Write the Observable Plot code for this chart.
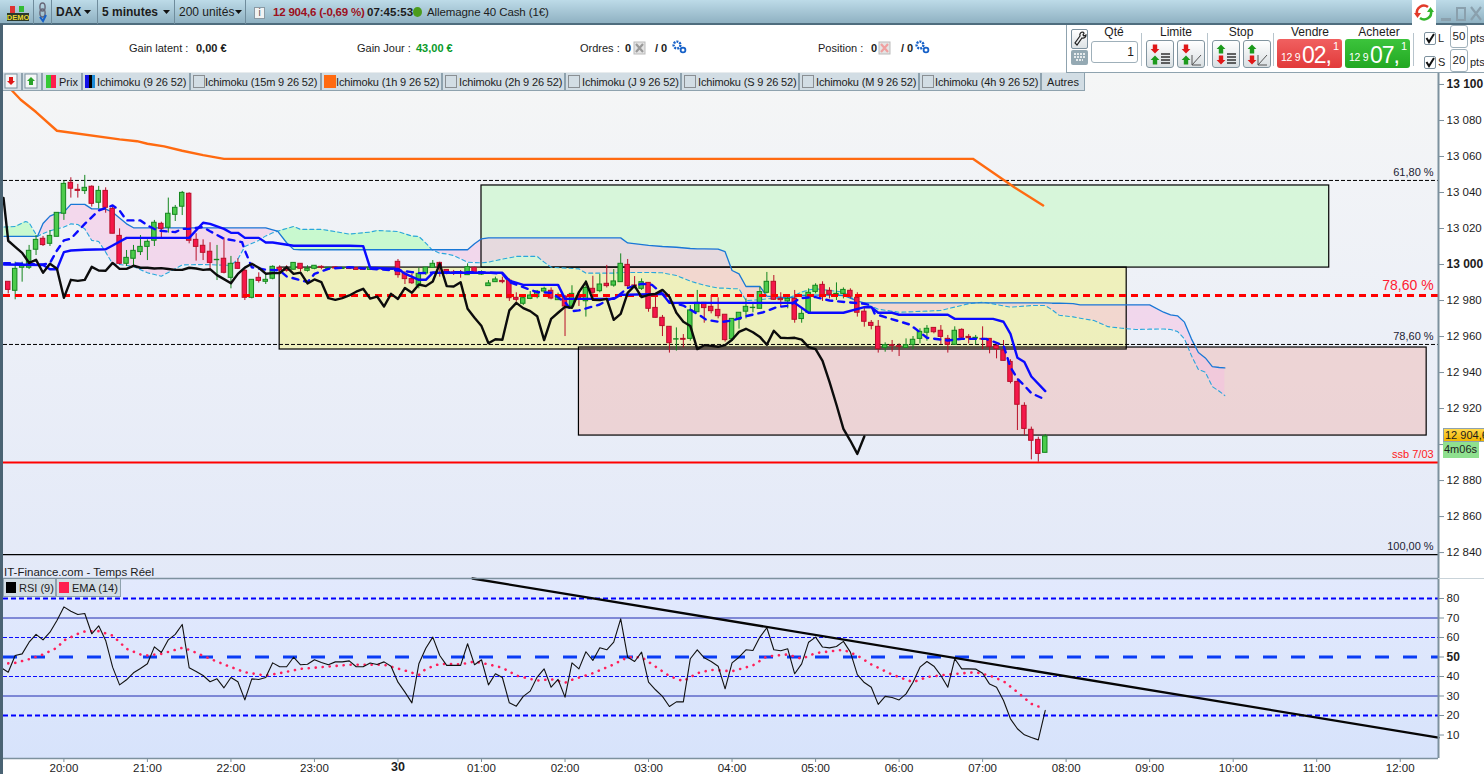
<!DOCTYPE html>
<html lang="fr"><head><meta charset="utf-8">
<script src="https://cdn.jsdelivr.net/npm/d3@7"></script>
<script src="https://cdn.jsdelivr.net/npm/@observablehq/plot@0.6"></script>
<style>
html,body{margin:0;padding:0;background:#fff;width:1484px;height:774px;overflow:hidden;font-family:"Liberation Sans",Arial,sans-serif;color:#1c1c1c}
#root{position:relative;width:1484px;height:774px;overflow:hidden}
.a{position:absolute;white-space:nowrap;box-sizing:border-box}
</style></head><body><div id="root"></div>
<script>
// ---------- candles (DAX, 5 minutes) : one value per bar, first bar = 19:20 ----------
const opens=[12990.4,12985.4,12998.2,12998.2,13008.2,13014.3,13011.5,13015.4,13028.2,13045.4,13041.5,13040.8,13043.2,13034.3,13040.9,13030.9,13015.9,13000.4,13003.2,13006.9,13009.8,13013.2,13022.6,13020.4,13027.6,13032.1,13039.3,13013.7,13010.4,13007.1,13002.4,13003.2,12992.6,13000.9,12996.5,12981.5,12992.6,12990.4,12992.1,12998.2,12997.6,12997.1,13000.4,12996.5,12997.6,12998.7,12997.6,12998.4,12997.5,12998,12998,12997.8,12997,12997.2,12997.4,12997,13001.5,12994.8,12991.9,12988.3,12995,12998.2,13000.9,12997,12995.6,12995.6,12994.1,12998.2,12994.4,12988,12990.2,12990.9,12991.1,12981.5,12978.2,12980.9,12981.9,12985,12985.4,12980.2,12982.2,12976.7,12982.4,12979.6,12986.5,12985.2,12989.3,12988.3,12990.2,12999.8,12988.4,12986.5,12989.8,12975.9,12970.4,12965.4,12958.3,12958.7,12958.7,12973.5,12978.7,12976.5,12974.8,12972.1,12958.5,12969.3,12973.8,12975.8,12975.4,12984.3,12990.4,12980.9,12979.5,12980.9,12969.7,12973.2,12984.8,12988.7,12985.4,12983.2,12983.7,12985.4,12981.5,12973.8,12967.6,12965.4,12953.7,12955.2,12954.6,12953.7,12955.2,12958.7,12962.1,12964.8,12963.2,12958.7,12955.4,12963.7,12959.8,12958.9,12958.7,12958.7,12954.8,12952.2,12945.9,12934.8,12921.5,12908.2,12902.6,12895.4];
const highs=[12990.4,13001.3,13001.3,13010.6,13016.1,13015.6,13018.9,13028.7,13046.3,13048.2,13044.5,13049.5,13043.7,13043.4,13042.6,13031.9,13019.8,13007.8,13010.6,13016.1,13013.7,13024.5,13023.5,13036.9,13032.8,13040.6,13039.8,13017.1,13013.7,13012.1,13010.6,13014.8,13004.5,13003.2,12997.6,12991.5,12995.4,12994.8,12999.3,12999.3,12999.3,13000.9,13000.4,12999.3,12999.3,12999.3,12998.2,12998.7,12998.4,12998.4,12998.2,12998,12998.4,12998,12997.6,12997.6,13002.8,12996,12994.8,12998,12998.3,13002.2,13001.3,12997,12996.7,12996.7,13000.4,12998.5,12996.5,12991.1,12993,12993,12992,12984.3,12981.9,12985,12985.6,12987.4,12987,12984.1,12982.8,12988.2,12984.6,12991.1,12993.5,12994.5,12999.5,12997.2,13005.9,13002.8,12993.3,12992,12990,12981.9,12971.7,12965.4,12964.8,12961.1,12977.2,12985.6,12978.7,12982.8,12981.5,12972.1,12970,12973.2,12980.9,12978.2,12987.4,12995.6,12993.9,12984.3,12981.8,12985.6,12975.4,12986.5,12989.3,12990.4,12987.1,12989.8,12987,12986.5,12984.3,12976.3,12968.9,12968.9,12956.5,12957.8,12955.9,12958.7,12960,12964.3,12966.1,12965,12966.1,12960.6,12965.4,12964.3,12961.1,12960.6,12965.4,12958.7,12956.3,12957.8,12947.1,12936.5,12923.2,12909.7,12904.1,12905.6];
const lows=[12983.7,12980.4,12990.2,12997.2,13005,13010,13010,13015.4,13024.5,13036.9,13036.9,13038.9,13031.9,13030.9,13028.5,13017.1,13000,12998.9,12998.9,13005,13002.2,13010,13014.3,13017.4,13023.9,13027.2,13011.5,13001.9,13002.2,12997.6,12991.1,12994.8,12986.5,12997.2,12980,12980.9,12989.7,12988.9,12991.5,12995.8,12995.8,12997.1,12995.8,12995.8,12997.1,12997.1,12997.1,12997.5,12997.4,12997.2,12996.8,12996.8,12996.8,12997,12996.8,12996.8,12992.4,12988.9,12988.9,12986.5,12993.9,12998.2,12993,12994.3,12993.9,12992.4,12994.1,12994.5,12994,12988,12990.2,12989.3,12979.5,12979.1,12977.2,12980.5,12980.9,12983.7,12980.4,12980.2,12960,12976.7,12976.7,12970.8,12979.6,12984.3,12987,12987.4,12990.2,12986.5,12986.5,12985.6,12973.5,12970.4,12960,12950.8,12951.9,12953.7,12957.4,12973.5,12967.4,12972.6,12969.8,12956.9,12957.4,12964.1,12969.8,12973.2,12975.4,12983.7,12980,12976.3,12975.4,12967.4,12967.4,12972.6,12983.7,12979.5,12980.9,12980,12980.9,12980.9,12970.8,12965.2,12963.7,12950.8,12951.3,12951.3,12948.9,12953.7,12952.8,12955.9,12957.4,12961.5,12955.6,12950.8,12955.4,12958.7,12955.9,12955.4,12952.8,12950.4,12947.6,12946.5,12933.7,12907.8,12905,12891.5,12890.2,12895.4];
const closes=[12985.9,12997.6,12999.3,13007.6,13013.7,13010.8,13015.9,13028.7,13044.8,13042.1,13040.9,13042.6,13033.7,13040.9,13031.5,13017.1,13000.4,13003.7,13007.6,13009.8,13012.6,13023.2,13019.8,13028.2,13031.5,13039.8,13013.2,13009.8,13006.5,13000.9,13002.6,12995.4,13000.4,12997.6,12981.5,12991.5,12990.9,12991.5,12998.7,12996.7,12996.5,13000.9,12997.6,12997.6,12999.3,12998.2,12998.2,12997.8,12998,12997.5,12997,12997,12998.2,12997.8,12997,12997.4,12994.1,12991.9,12989.6,12994.8,12998.3,13000.4,12998.2,12994.9,12995.2,12995.2,12998.5,12994.8,12995.5,12989.5,12991.7,12990.2,12981.3,12980.4,12981.3,12982.8,12984.9,12986.5,12981.1,12982.2,12976.7,12983.7,12980.9,12987,12984.3,12988.9,12988,12990.6,13000.4,12988,12987.8,12990.2,12975.4,12970.4,12965.8,12956.3,12958.5,12958.2,12974.5,12978.7,12975.8,12974.1,12971.3,12958,12969.8,12973.2,12976.5,12976,12984.7,12990.4,12980.4,12980.2,12980.9,12969.3,12972.6,12984.3,12988.2,12981.9,12983.2,12983.7,12985.9,12982.1,12973.2,12968.2,12965.9,12953,12955.2,12954.8,12954.3,12955.2,12958.2,12962.6,12964.3,12962.4,12959.8,12955.4,12963.2,12959.3,12959.1,12959.3,12958.3,12954.1,12953,12946.5,12934.8,12922.1,12908.7,12902.1,12894.8,12904.5];
const firstBar=-8;            // bars are counted from 20:00 = 0, 12 bars per hour

// ---------- Ichimoku, as [bar, price] vertices ----------
const chikou=[13013.2,13009.8,13006.5,13000.9,13002.6,12995.4,13000.4,12997.6,12981.5,12991.5,12990.9,12991.5,12998.7,12996.7,12996.5,13000.9,12997.6,12997.6,12999.3,12998.2,12998.2,12997.8,12998,12997.5,12997,12997,12998.2,12997.8,12997,12997.4,12994.1,12991.9,12989.6,12994.8,12998.3,13000.4,12998.2,12994.9,12995.2,12995.2,12998.5,12994.8,12995.5,12989.5,12991.7,12990.2,12981.3,12980.4,12981.3,12982.8,12984.9,12986.5,12981.1,12982.2,12976.7,12983.7,12980.9,12987,12984.3,12988.9,12988,12990.6,13000.4,12988,12987.8,12990.2,12975.4,12970.4,12965.8,12956.3,12958.5,12958.2,12974.5,12978.7,12975.8,12974.1,12971.3,12958,12969.8,12973.2,12976.5,12976,12984.7,12990.4,12980.4,12980.2,12980.9,12969.3,12972.6,12984.3,12988.2,12981.9,12983.2,12983.7,12985.9,12982.1,12973.2,12968.2,12965.9,12953,12955.2,12954.8,12954.3,12955.2,12958.2,12962.6,12964.3,12962.4,12959.8,12955.4,12963.2,12959.3,12959.1,12959.3,12958.3,12954.1,12953,12946.5,12934.8,12922.1,12908.7,12902.1,12894.8,12904.5];
const chikouStart=13037;
const kijun=[[-8.6,13000],[-3,12999.7],[-2,12997.4],[-1,12997.4],[0,13006.9],[1,13007.8],[3,13008.2],[6,13008.5],[7,13010.6],[9,13014.8],[18,13014.8],[20,13023.2],[21,13022.6],[23,13019.8],[24,13017.6],[25,13017.6],[26,13014.8],[28,13014.8],[29,13012.2],[30,13012.2],[33,13010.4],[41,13010.4],[43,13010.2],[44,12998.2],[48,12997.6],[49,12994.9],[51,12991.5],[52,12991.5],[53,12995.4],[63,12995.4],[64,12991.1],[66,12988.7],[71,12988.7],[72,12980.9],[79,12980.9],[80,12983.2],[81,12983.2],[86,12983.7],[87,12978.7],[105,12978.7],[107,12973.2],[112,12973.2],[115,12976.3],[116,12976.3],[117,12973.2],[119,12973.2],[120,12972.1],[127,12972.1],[128,12969.8],[133.5,12969.8],[135,12968.2],[136,12961.5],[137,12948.2],[138,12945.8],[139,12937.8],[141,12929.7]];
const tenkan=[[-8.6,13000.8],[-3,13000],[-2,13000.8],[-1,13007.8],[0,13013.4],[1,13014.3],[3,13022.6],[5,13030],[7,13032.8],[8,13030],[9,13024.5],[11,13024.5],[12,13021.7],[13.4,13018.9],[16,13018],[17,13019.8],[18,13019.8],[20,13020.8],[21,13018.5],[23,13014.3],[24.4,13013.4],[25.6,13012.4],[26,13007.8],[27,12998.5],[29,12997.1],[31,12996.7],[32,12993.4],[35,12990.2],[36,12994.8],[38,12997.6],[41,12998.5],[44,12997.6],[48,12996.7],[50,12995.8],[51,12995.2],[55.5,12995.8],[60,12995.8],[63,12994.9],[64,12990.2],[66,12987.4],[68,12984.6],[70,12984.3],[72,12979.1],[73,12974.1],[74,12974.5],[77,12977.8],[78,12980],[79.4,12981.9],[81,12987],[83,12989.3],[84.5,12988.7],[86,12983.7],[87,12979.1],[89,12977.2],[91.4,12971.7],[92.3,12969.3],[94.3,12968],[96,12968.9],[98,12971.3],[100.5,12973.5],[102.4,12976.3],[104.3,12977.2],[105.7,12981.3],[108,12981.9],[110,12980],[112.4,12979.1],[115,12978.2],[116,12977.2],[116.5,12972.6],[118,12970.8],[121.5,12966.7],[123,12962.4],[124,12959.3],[127,12957.8],[129,12958.7],[132.5,12958.7],[135,12955],[136,12943],[137,12936.5],[138,12932.8],[139,12928.5],[141,12925]];
const kijun1h=[[-8.6,13099.1],[-7.6,13097.2],[-6.2,13091.5],[-4,13084.7],[-1,13074.3],[8,13069.5],[10.5,13068.5],[12,13067.1],[14.4,13065.6],[17,13063.2],[20,13060.8],[23,13058.7],[130.6,13058.7],[136.6,13042.8],[140.7,13032.8]];
// the cloud: common bars, then span A and span B at each of them
const cloudBars=[-8.6,-7,-5.5,-5,-4,-3.8,-3,-2,-1,0,1,2,3,4,5,6,7,8,9,10,12,14,15,17,20,24,25,26,28,29,30,30.7,32,33,34,37,38,41,44,45,48,50,51,52,52.9,54,55,56,57,58,59,60,61,62,65,68,69,70,73,74,75,79,80,81,84,86,88,90,91,92,94,95,96,97,98,100,101,102,104,105,106,107,108,110,112,113,114,115,117,120,124,126,130,132,134,136,139,141,142,143,145,146,148,150,152,154,156,158,159,160,161,162,163,164,165,166,166.8];
const spanA=[13020.8,13021.1,13023.9,13023.2,13016.7,13015.6,13017.2,13018.7,13019.8,13020.8,13022.6,13022.2,13019.8,13013.4,13012.8,13006.9,13000.4,13000,12999.5,12998.9,12995.4,12993.5,12995.6,12999.8,13000,12999.5,13003,13010,13013.4,13015.9,13017.6,13018.5,13020,13021.1,13019.5,13019.5,13018.9,13016.9,13018,13018.9,13018.3,13015.8,13015.6,13011.9,13008.2,13006.3,13005.9,13005,13003.2,13001.3,13001.1,13000.9,13001.3,13002.2,13004.5,13004.5,13001.3,12998.5,12997.8,12997.6,12995.2,12995.2,12995.6,12995.6,12995.6,12995.4,12993.9,12990.8,12989.6,12988.5,12986.9,12986.9,12986.5,12986.5,12980,12980.4,12980.9,12981.3,12981.3,12982.8,12984.7,12985.9,12986.5,12985.6,12984.7,12982.2,12979.1,12978.5,12975.2,12973.5,12974.1,12974.5,12978.2,12979.1,12977.8,12976.3,12977.2,12977.2,12974.8,12971.8,12970.9,12970.2,12968.9,12965.5,12964.6,12963.9,12964.1,12964.2,12963.9,12962.8,12958.7,12949.4,12941.7,12940.2,12932.2,12929.6,12927.2];
const spanB=[13015.6,13015.6,13015.6,13015.6,13015.6,13015.6,13022.8,13026.9,13028.5,13029.1,13033.4,13033.4,13033.4,13030.9,13030.9,13030.8,13029.1,13025.9,13022.6,13020.4,13020.4,13020.4,13020.4,13020.4,13020.4,13020.4,13020.4,13020.4,13020.4,13020.4,13019.3,13018.5,13012.1,13008.4,13008.2,13008.2,13008.2,13008.2,13008.2,13008.2,13008.2,13008.2,13008.2,13008.2,13008.2,13008.2,13008.2,13008.2,13008.2,13008.2,13011.5,13014.3,13014.8,13014.8,13014.8,13014.8,13014.8,13014.8,13014.8,13014.8,13014.8,13014.8,13014.8,13012,13010.6,13010,13009.6,13008.9,13008.7,13008.7,13008.5,13007.1,12996.7,12994.8,12987.8,12987.8,12982.4,12982.1,12981.5,12981.9,12982.8,12983,12983,12983.2,12982.8,12981.3,12979.7,12978.7,12978.7,12978.7,12978.7,12978.7,12978.7,12978.7,12978.7,12978.7,12978.7,12978.7,12978.5,12978.5,12978.3,12977.6,12977.6,12977.6,12977.6,12977.6,12977.6,12973.5,12972,12971.5,12968,12958.7,12951.1,12948.1,12943.3,12942.8,12942.6];

// ---------- levels and zones ----------
const priceTicks=[12840,12860,12880,12900,12920,12940,12960,12980,13020,13040,13060,13080];
const priceTicksBold=[13000,13100];
const level618=13046.7, level786Red=12982.8, level786=12955.6, levelSsb=12890, level100=12838.9;
const zones=[
 {x1:60,x2:181.8,y1:12998.3,y2:13043.9,fill:"rgb(190,250,190)"},
 {x1:31,x2:152.7,y1:12952.8,y2:12998.3,fill:"rgb(240,240,130)"},
 {x1:74,x2:195.8,y1:12905,y2:12953.9,fill:"rgb(240,185,180)"}
];
const levelLabels=[
 {y:level618,t:"61,80 %",fill:"#223",size:11},
 {y:level786,t:"78,60 %",fill:"#223",size:11},
 {y:levelSsb,t:"ssb 7/03",fill:"#ff2020",size:11},
 {y:level100,t:"100,00 %",fill:"#223",size:11}
];
const levelLabelRed={y:level786Red,t:"78,60 %"};

// ---------- RSI panel ----------
const rsi=[44.5,42.2,50.8,51.6,57.6,61.6,58.8,62.7,68.7,75.7,73.5,71.8,72.3,61.9,66,58.5,44.8,35.7,38.3,41.9,44.1,46.5,55.2,52.3,58.8,61.6,66.7,44.5,42.6,40.5,37.3,38.8,34.2,39.5,37.3,28,38.8,38.5,39.5,47,45,45,49.9,46,46.3,48.6,47.2,46,47.5,47.5,48,45,45,46.9,46.2,47.5,45.3,37.1,32,26.5,46.5,54.5,60.2,50.8,45.7,45.7,45.7,56.8,46,48.6,35.7,41.4,39.5,26.5,24.8,29.8,32.5,39.7,43.9,34.5,38.5,29.4,47,43.9,52.7,48.2,54.7,53.7,57.6,69.6,49.9,47.7,52.5,37.1,33.2,29.8,24.6,27,27,49.1,53.7,49.6,47.7,45.3,33.7,47,49.9,53.7,53.3,60.2,65,53.7,53.2,54.2,41.4,46.5,57.6,60.2,55.1,54.7,55.4,58,52.5,41,36.9,34.5,25.7,29.8,29.2,28,31.1,37.1,44.8,47.7,45.3,40.5,34.5,49.1,43.9,43.9,43.8,41.7,36.1,34.5,27.7,18.3,13.2,10.1,8.7,7.5,22.6];
const rsiFirstBar=-9;
const ema=[[-9,46.5],[-7,47],[-5,48.9],[-3,51.3],[-1,54.7],[0,58.5],[1,60.2],[2,61.9],[3,63.1],[5,63.25],[7,61],[8,57.6],[9,54.2],[11,51.3],[12,50.8],[14,51.6],[17,54.7],[18,53.7],[21,49.1],[23,46.2],[26,42.2],[29,40.5],[31,41.7],[34,43.9],[38,45.1],[41,46],[46,46],[49,43.1],[51,40.8],[52,43.9],[54,46.5],[57,46.2],[59,47.7],[61,46.2],[63,44.5],[65,40.5],[68,37.9],[70,38.6],[72,36.8],[73,38.3],[76,41.7],[79,46.2],[81,49.9],[83,49.9],[85,45.1],[87,40.2],[89,37.6],[91,41.7],[93,43.4],[96,42.7],[99,45.7],[101,50.3],[104,51.3],[106,49.1],[108,52],[112,53.7],[114,50.8],[116,46.2],[119,41],[122,37.1],[124,39.7],[127,41],[131,42.2],[133,40.5],[135,37.6],[137,32],[139,26],[140,24.6],[141,24.3]];
const trend=[[58.7,90.26],[197.5,8.7]];
const rsiTicks=[10,20,30,40,60,70,80];
const hourBars=[0,12,24,36,48,60,72,84,96,108,120,132,144,156,168,180,192];
const hourLabels=["20:00","21:00","22:00","23:00","30","01:00","02:00","03:00","04:00","05:00","06:00","07:00","08:00","09:00","10:00","11:00","12:00"];

// ---------- derived tables ----------
const bars=opens.map((o,j)=>({i:firstBar+j,o,h:highs[j],l:lows[j],c:closes[j],up:closes[j]>=o}));
const cloud=cloudBars.map((x,j)=>({x,a:spanA[j],b:spanB[j]}));
const chikouPts=[{x:-8.678,y:chikouStart},...chikou.map((y,j)=>({x:firstBar+j,y}))];
const rsiPts=rsi.map((y,j)=>({x:rsiFirstBar+j,y}));
const xp=d=>d[0], yp=d=>d[1];
const xDomain=[-8.678,197.5];
const GREEN="#4ccb4c",GREEND="#14861e",RED="#f5174a",REDD="#b80f28",AXIS="#7d919e";
const font='"Liberation Sans",Arial,sans-serif';
const fmtPrice=v=>v===12900?"":d3.format(",")(v).replace(","," ");

const pricePlot=Plot.plot({
  width:1484,height:505,marginLeft:3,marginRight:46,marginTop:0,marginBottom:0,
  x:{domain:xDomain,axis:null},
  y:{domain:[12825.6,13106.1],axis:null},
  style:{position:"absolute",left:"0",top:"73px",overflow:"visible",fontFamily:font,color:"#1c1c1c",
    background:"linear-gradient(#f5f6f6,#e3e9f8) no-repeat",backgroundSize:"1438px 100%"},
  marks:[
    Plot.rect(zones,{x1:"x1",x2:"x2",y1:"y1",y2:"y2",fill:"fill",fillOpacity:0.5}),
    Plot.areaY(cloud,{x:"x",y1:"b",y2:d=>Math.max(d.a,d.b),fill:"rgb(162,255,168)",fillOpacity:0.5}),
    Plot.areaY(cloud,{x:"x",y1:"b",y2:d=>Math.min(d.a,d.b),fill:"rgb(245,190,225)",fillOpacity:0.5}),
    Plot.rect(zones,{x1:"x1",x2:"x2",y1:"y1",y2:"y2",fill:"none",stroke:"#000",strokeWidth:1.2}),
    Plot.line(cloud,{x:"x",y:"a",stroke:"#2aa6dc",strokeWidth:1.1,strokeDasharray:"4,3"}),
    Plot.line(cloud,{x:"x",y:"b",stroke:"#1878d6",strokeWidth:1.3}),
    Plot.ruleY([level618],{stroke:"#000",strokeWidth:1,strokeDasharray:"4,2"}),
    Plot.ruleY([level786],{stroke:"#000",strokeWidth:1,strokeDasharray:"4,2"}),
    Plot.ruleY([levelSsb],{stroke:"#ff0000",strokeWidth:2}),
    Plot.ruleY([level100],{stroke:"#000",strokeWidth:1.3}),
    Plot.line(kijun1h,{x:xp,y:yp,stroke:"#ff6a10",strokeWidth:2.4}),
    Plot.ruleX(bars,{x:"i",y1:"l",y2:"h",stroke:d=>d.up?GREEND:REDD,strokeWidth:1}),
    Plot.rect(bars,{x1:d=>d.i-0.32,x2:d=>d.i+0.32,y1:"o",y2:"c",fill:d=>d.up?GREEN:RED,stroke:d=>d.up?GREEND:REDD,strokeWidth:1}),
    Plot.ruleY([level786Red],{stroke:"#ff0000",strokeWidth:3,strokeDasharray:"7,5"}),
    Plot.line(tenkan,{x:xp,y:yp,stroke:"#0a0aff",strokeWidth:2.4,strokeDasharray:"6,6"}),
    Plot.line(kijun,{x:xp,y:yp,stroke:"#0a0aff",strokeWidth:2.4}),
    Plot.line(chikouPts,{x:"x",y:"y",stroke:"#0c0c0c",strokeWidth:2.4}),
    Plot.text(levelLabels,{x:196.8,y:"y",text:"t",fill:"fill",fontSize:"size",dy:-8,textAnchor:"end"}),
    Plot.text([levelLabelRed],{x:196.8,y:"y",text:"t",fill:"#ff1a30",fontSize:14,dy:-10,textAnchor:"end"}),
    Plot.ruleX([xDomain[1]],{stroke:AXIS,strokeWidth:2}),
    Plot.axisY(priceTicks,{anchor:"right",tickSize:5,tickPadding:3,tickFormat:fmtPrice,fontSize:11.5,label:null,stroke:AXIS}),
    Plot.axisY(priceTicksBold,{anchor:"right",tickSize:5,tickPadding:3,tickFormat:fmtPrice,fontSize:12,fontWeight:"bold",label:null,stroke:AXIS})
  ]
});

const rsiPlot=Plot.plot({
  width:1484,height:196,marginLeft:3,marginRight:46,marginTop:0,marginBottom:16,
  x:{domain:xDomain,axis:null},
  y:{domain:[-2.05,90.26],axis:null},
  style:{position:"absolute",left:"0",top:"578px",overflow:"visible",fontFamily:font,color:"#1c1c1c",
    background:"linear-gradient(#e2e9fd,#d7e3fb) no-repeat",backgroundSize:"1438px 180px"},
  marks:[
    Plot.ruleY([70,30],{stroke:"#1f2bb0",strokeWidth:1}),
    Plot.ruleY([60,40],{stroke:"#0a0aff",strokeWidth:1,strokeDasharray:"4,2"}),
    Plot.ruleY([80,20],{stroke:"#0000ff",strokeWidth:2,strokeDasharray:"5,3"}),
    Plot.ruleY([50],{stroke:"#0a3cf5",strokeWidth:3,strokeDasharray:"14,14"}),
    Plot.line(ema,{x:xp,y:yp,stroke:"#ff1f5a",strokeWidth:2.6,strokeDasharray:"0.1,6.9",strokeLinecap:"round"}),
    Plot.line(rsiPts,{x:"x",y:"y",stroke:"#111",strokeWidth:1.1}),
    Plot.line(trend,{x:xp,y:yp,stroke:"#050505",strokeWidth:2.3}),
    Plot.ruleX([xDomain[1]],{stroke:AXIS,strokeWidth:2}),
    Plot.ruleY([-2.05],{stroke:AXIS,strokeWidth:1.5}),
    Plot.ruleY([90.26],{stroke:AXIS,strokeWidth:1.5}),
    Plot.axisY(rsiTicks,{anchor:"right",tickSize:5,tickPadding:3,fontSize:11.5,label:null,stroke:AXIS}),
    Plot.axisY([50],{anchor:"right",tickSize:5,tickPadding:3,fontSize:12,fontWeight:"bold",label:null,stroke:AXIS}),
    Plot.axisX(hourBars.filter(b=>b!==48),{anchor:"bottom",tickSize:4,tickPadding:1,fontSize:11.5,label:null,stroke:AXIS,tickFormat:b=>hourLabels[hourBars.indexOf(b)]}),
    Plot.axisX([48],{anchor:"bottom",tickSize:4,tickPadding:0,fontSize:12.5,fontWeight:"bold",label:null,stroke:AXIS,tickFormat:b=>hourLabels[hourBars.indexOf(b)]})
  ]
});

// ---------- page chrome ----------
const root=document.getElementById("root");
root.append(pricePlot,rsiPlot);
function box(x,y,w,h,css,html){const d=document.createElement("div");d.className="a";
  d.style.cssText=`left:${x}px;top:${y}px;width:${w}px;height:${h}px;${css||""}`;if(html)d.innerHTML=html;root.append(d);return d;}
function txt(x,cy,s,css,anchor){const d=document.createElement("div");d.className="a";d.textContent=s;
  const tr=anchor==="c"?"translate(-50%,-50%)":anchor==="r"?"translate(-100%,-50%)":"translateY(-50%)";
  d.style.cssText=`left:${x}px;top:${cy}px;transform:${tr};font-size:11px;${css||""}`;root.append(d);return d;}
const svg=(w,h,b)=>`<svg width="${w}" height="${h}" viewBox="0 0 ${w} ${h}" style="display:block">${b}</svg>`;
const arrow=(x,y,c,up,s=1)=>up?`<path d="M${x} ${y-4*s}l${4*s} ${4*s}h${-2*s}v${4*s}h${-4*s}v${-4*s}h${-2*s}z" fill="${c}"/>`:`<path d="M${x} ${y+4*s}l${4*s} ${-4*s}h${-2*s}v${-4*s}h${-4*s}v${4*s}h${-2*s}z" fill="${c}"/>`;
const gear=`<circle cx="5" cy="5" r="3.4" fill="none" stroke="#1560c8" stroke-width="2.4" stroke-dasharray="2,1"/><circle cx="11" cy="10" r="2.4" fill="none" stroke="#1560c8" stroke-width="1.8"/>`;
const crossDoc=c=>`<rect x="1" y="1" width="11" height="12" fill="#e4e4e4" stroke="#bbb"/><path d="M3 3l7 8M10 3l-7 8" stroke="${c}" stroke-width="2.2"/>`;

// top bar
box(0,0,1484,25,"background:linear-gradient(#bddbe8,#8fb1c2);border-bottom:2px solid #4f6d7e");
box(1412,0,24,25,"background:#fff",svg(24,25,`<path d="M5 14a7 7 0 0 1 11-7" fill="none" stroke="#e23a2a" stroke-width="2.6"/><path d="M2 13h7l-3.5 5z" fill="#e23a2a"/><path d="M19 11a7 7 0 0 1-11 7" fill="none" stroke="#33b52c" stroke-width="2.6"/><path d="M22 12h-7l3.5-5z" fill="#33b52c"/>`));
box(1441,9,10,12,"",svg(10,12,`<rect y="9" width="10" height="3" fill="#8aa0ad"/>`));
box(1456,7,10,14,"border:2px solid #8aa0ad");
box(1470,6,12,15,"",svg(12,15,`<path d="M1 1l10 13M11 1L1 14" stroke="#8aa0ad" stroke-width="2.2"/>`));
box(7,6,22,15,"",svg(22,15,`<rect x="3" y="0" width="5" height="7" fill="#d33"/><rect x="12" y="0" width="5" height="6" fill="#3b3"/><rect y="7" width="22" height="8" fill="#2b3a2b"/><text x="11" y="14" text-anchor="middle" font-size="7.5" font-weight="bold" fill="#e8d830" font-family="Liberation Sans">DEMO</text>`));
box(38,2,10,21,"",svg(10,21,`<ellipse cx="4.5" cy="5" rx="2.6" ry="4" fill="none" stroke="#667" stroke-width="1.4"/><ellipse cx="4.5" cy="11" rx="2.6" ry="4" fill="none" stroke="#667" stroke-width="1.4"/><path d="M2 15l3 4 3-6" fill="none" stroke="#1560c8" stroke-width="2"/>`));
[33,51,97,174,245].forEach(x=>box(x,0,1,24,"background:#6f8c9c"));
const caret=x=>box(x,10,7,4,"",svg(7,4,`<path d="M0 0h7l-3.5 4z" fill="#111"/>`));
txt(56,12,"DAX","font-weight:bold;font-size:12px");caret(84);
txt(102,12,"5 minutes","font-weight:bold;font-size:12px");caret(163);
txt(179,12,"200 unités","font-size:12px");caret(235);
box(254,7,11,12,"background:#f1f3f3;border:1px solid #8a9aa4;text-align:center;font-size:10px;line-height:10px;color:#555","i");
txt(273,12,"12 904,6 (-0,69 %)","color:#9c1020;font-weight:bold;font-size:11.5px;letter-spacing:-.2px");
txt(367,12,"07:45:53","font-weight:bold;font-size:11.5px");
box(413,7,9,10,"background:#4c9c1c;border-radius:50%");
txt(427,12,"Allemagne 40 Cash (1€)","font-size:11.5px;letter-spacing:-.1px");

// second row
txt(129,48,"Gain latent :","");txt(196,48,"0,00 €","font-weight:bold");
txt(357,48,"Gain Jour :","");txt(416,48,"43,00 €","font-weight:bold;color:#0a9a2a");
txt(580,48,"Ordres :","");txt(625,48,"0","font-weight:bold");
box(633,41,14,14,"",svg(14,14,crossDoc("#9a9a9a")));
txt(655,48,"/ 0","font-weight:bold");box(672,40,16,16,"",svg(16,16,gear));
txt(818,48,"Position :","");txt(871,48,"0","font-weight:bold");
box(878,41,14,14,"",svg(14,14,crossDoc("#f0a0a0")));
txt(901,48,"/ 0","font-weight:bold");box(915,40,16,16,"",svg(16,16,gear));

// order panel
box(1066,25,1,48,"background:#8fa3af");
box(1066,72,418,1,"background:#8fa3af");
box(0,72,1066,1,"background:#e8ecee");
box(1071,29,17,20,"background:linear-gradient(#fff,#dde3e6);border:1px solid #7d919e;border-radius:2px",svg(15,18,`<path d="M11 2a3 3 0 0 0-3 4L3 13l2 2 5-7a3 3 0 0 0 4-3l-2 1-1-1 1-2z" fill="none" stroke="#222" stroke-width="1.2"/>`));
box(1071,50,17,15,"background:#94a9b3;border-radius:2px",svg(17,15,`<path d="M3 4h11M3 7h11M5 10h7" stroke="#fff" stroke-width="1.6" stroke-dasharray="2,1"/>`));
txt(1114,32,"Qté","font-size:12px","c");
box(1091,41,47,22,"background:#fff;border:1px solid #9fb0ba;border-radius:3px;text-align:right;padding-right:3px;font-size:12px;line-height:20px","1");
[1141,1207,1273,1413].forEach(x=>box(x,33,1,33,"background:#b7c4cc"));
txt(1176,32,"Limite","font-size:12px","c");txt(1241,32,"Stop","font-size:12px","c");
txt(1310,32,"Vendre","font-size:12px","c");txt(1379,32,"Acheter","font-size:12px","c");
const orderBtn=(x,firstDown,list)=>box(x,40,28,28,"background:linear-gradient(#fff,#d9dfe2);border:1px solid #8295a0;border-radius:3px",svg(26,26,
  (firstDown?arrow(8,8,"#e01818",false,1.1)+arrow(8,19,"#1c9a1c",true,1.1):arrow(8,8,"#1c9a1c",true,1.1)+arrow(8,19,"#e01818",false,1.1))+
  (list?`<path d="M14 13h9M14 16h9M14 19h9M14 22h9" stroke="#333" stroke-width="1.4"/>`:`<path d="M14 24l9-10M14 14v10h9" fill="none" stroke="#555" stroke-width="1"/>`)));
orderBtn(1146,true,true);orderBtn(1177,true,false);orderBtn(1212,false,true);orderBtn(1243,false,false);
box(1277,39,65,29,"background:linear-gradient(#f06060,#e23a3a);border-radius:3px");
box(1345,39,65,29,"background:linear-gradient(#3cc43c,#22a822);border-radius:3px");
const price=(x,a,b,c)=>{txt(x+4,57,a,"color:#fff;font-size:10.5px;letter-spacing:-.3px");txt(x+25,55,b,"color:#fff;font-size:23px;letter-spacing:-1px");txt(x+56,46,c,"color:#fff;font-size:11px");};
price(1277,"12 9","02,","1");price(1345,"12 9","07,","1");
const check=(y,l,v)=>{box(1424,y,12,13,"background:#fff;border:1px solid #7d919e;border-radius:2px",svg(10,11,`<path d="M1.5 5l2.5 4 5-8" fill="none" stroke="#111" stroke-width="2"/>`));
  txt(1438,y+6,l,"font-size:11px");box(1450,y-7,18,23,"background:#fff;border:1px solid #9fb0ba;border-radius:3px;text-align:center;font-size:11.5px;line-height:21px",v);txt(1470,y+6,"pts","font-size:11px");};
check(32,"L","50");check(56,"S","20");

// legend row over the price panel
const legendBtn=(x,w,html,h=18,y=73)=>box(x,y,w,h,"background:#d2dde4;border:1px solid #8ea2ae;border-top:0;font-size:11px;line-height:17px",html);
legendBtn(2,20,svg(16,16,`<rect x="2" y="1" width="12" height="14" fill="#f4f6f7" stroke="#7d919e"/>`+arrow(8,8,"#e01818",false,1)));
legendBtn(22,20,svg(16,16,`<rect x="2" y="1" width="12" height="14" fill="#f4f6f7" stroke="#7d919e"/>`+arrow(8,8,"#2aa32a",true,1)));
legendBtn(42,40,"");box(46,75,5,13,"background:#35c935");box(51,75,5,13,"background:#ff1e4e");txt(59,81.5,"Prix","");
legendBtn(82,108,"");box(85,75,4,13,"background:#1212e8");box(89,75,3,13,"background:#000");box(92,75,3,13,"background:#1a8ad8");txt(97,81.5,"Ichimoku (9 26 52)","letter-spacing:-.1px");
const ichi=[[190,131,"Ichimoku (15m 9 26 52)",205],[321,121,"Ichimoku (1h 9 26 52)",336],[442,123,"Ichimoku (2h 9 26 52)",459],[565,116,"Ichimoku (J 9 26 52)",582],[681,118,"Ichimoku (S 9 26 52)",698],[799,120,"Ichimoku (M 9 26 52)",816],[919,122,"Ichimoku (4h 9 26 52)",935]];
ichi.forEach(([x,w,s,tx])=>{legendBtn(x,w,"");
  box(x+3,75,12,13,s.includes("(1h")?"background:#ff6a10":"background:#d2dde4;border:1px solid #8a8f93");
  txt(tx,81.5,s,"letter-spacing:-.15px");});
legendBtn(1041,44,"");txt(1063,81.5,"Autres","","c");

// panel notes and tags
txt(4,571.5,"IT-Finance.com - Temps Réel","font-size:11.5px");
box(3,579,53,18,"background:#d2dde4;border:1px solid #8ea2ae;border-top:0");box(6,582,10,11,"background:#000");txt(19,587.5,"RSI (9)","");
box(56,579,65,18,"background:#d2dde4;border:1px solid #8ea2ae;border-top:0");box(59,582,10,11,"background:#ff1e4e");txt(72,587.5,"EMA (14)","");
box(1443,428,41,14,"background:linear-gradient(#ffd84a,#f2b400);border:1px solid #8ea2ae;border-right:0;font-size:11px;line-height:12px;padding-left:1px;overflow:hidden","12 904,6");
box(1443,442,36,16,"background:#8fe08f;font-size:11px;line-height:15px;padding-left:1px","4m06s");

// left window border
box(0,24,3,750,"background:#4a6373");
box(1438,578,46,1,"background:#c9d3d9");
</script></body></html>
